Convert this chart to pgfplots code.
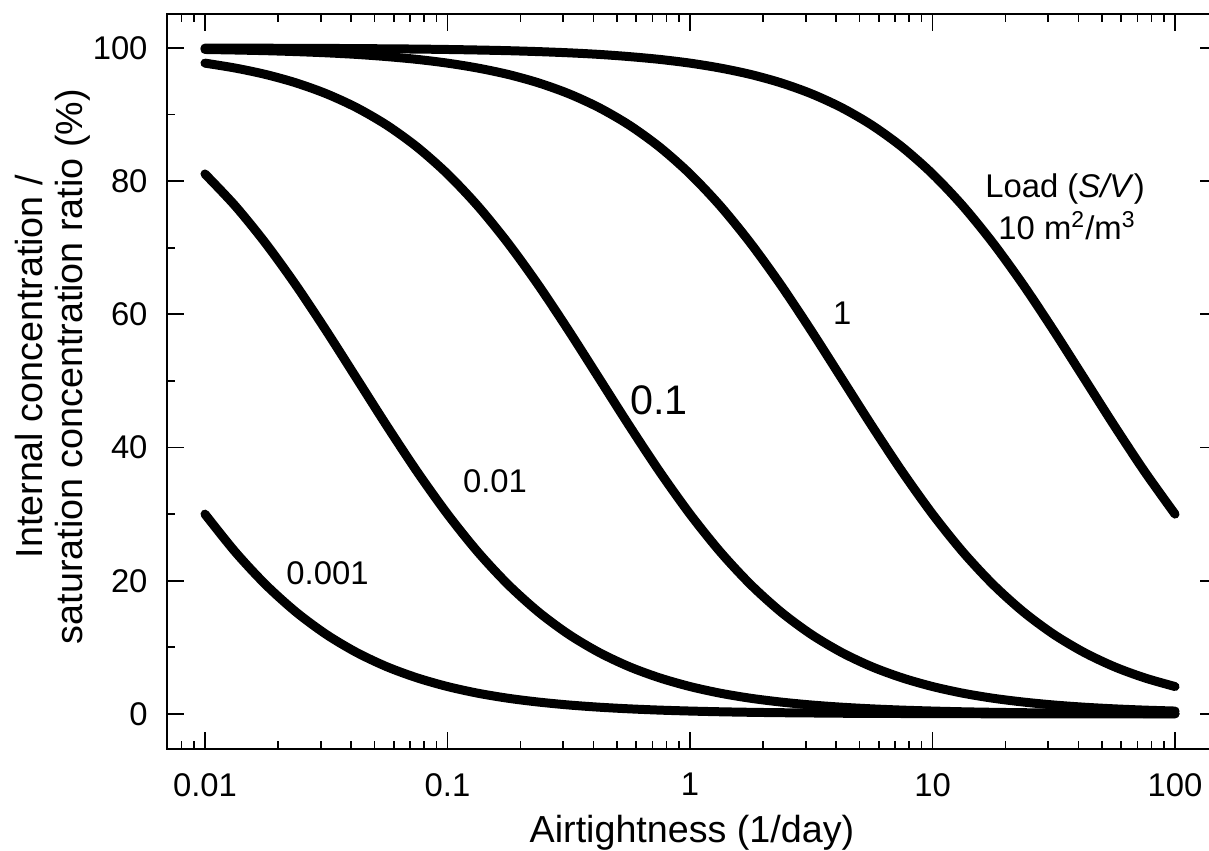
\documentclass[border=0pt]{standalone}
\usepackage{pgfplots}
\pgfplotsset{compat=1.18}
\usepackage{pgfplotstable}
\usetikzlibrary{calc}
\usepackage{fontspec}
\setmainfont{Liberation Sans}

% ratio (%) vs airtightness for five loads S/V
\pgfplotstableread{
x         L0001  L001   L01    L1     L10
0.01      30.00  81.08  97.72  99.77  99.98
0.013335  24.32  76.27  96.98  99.69  99.97
0.017783  19.42  70.67  96.02  99.59  99.96
0.023714  15.31  64.38  94.76  99.45  99.94
0.031623  11.94  57.54  93.13  99.27  99.93
0.042170   9.23  50.40  91.04  99.03  99.90
0.056234   7.08  43.25  88.40  98.70  99.87
0.074989   5.41  36.37  85.11  98.28  99.83
0.1        4.11  30.00  81.08  97.72  99.77
0.13335    3.11  24.32  76.27  96.98  99.69
0.17783    2.35  19.42  70.67  96.02  99.59
0.23714    1.78  15.31  64.38  94.76  99.45
0.31623    1.34  11.94  57.54  93.13  99.27
0.42170    1.01   9.23  50.40  91.04  99.03
0.56234    0.76   7.08  43.25  88.40  98.70
0.74989    0.57   5.41  36.37  85.11  98.28
1          0.43   4.11  30.00  81.08  97.72
1.3335     0.32   3.11  24.32  76.27  96.98
1.7783     0.24   2.35  19.42  70.67  96.02
2.3714     0.18   1.78  15.31  64.38  94.76
3.1623     0.14   1.34  11.94  57.54  93.13
4.2170     0.10   1.01   9.23  50.40  91.04
5.6234     0.08   0.76   7.08  43.25  88.40
7.4989     0.06   0.57   5.41  36.37  85.11
10         0.04   0.43   4.11  30.00  81.08
13.335     0.03   0.32   3.11  24.32  76.27
17.783     0.02   0.24   2.35  19.42  70.67
23.714     0.02   0.18   1.78  15.31  64.38
31.623     0.01   0.14   1.34  11.94  57.54
42.170     0.01   0.10   1.01   9.23  50.40
56.234     0.01   0.08   0.76   7.08  43.25
74.989     0.01   0.06   0.57   5.41  36.37
100        0.00   0.04   0.43   4.11  30.00
}\datatab

\pgfplotsset{curve/.style={black, line width=3.7pt, line cap=round, smooth, no marks}}

\begin{document}
\begin{tikzpicture}
\begin{axis}[
  scale only axis,
  width=432.1pt, height=302.4pt,
  xmode=log,
  xmin=0.00697, xmax=149,
  ymin=-5.25, ymax=105.1,
  xtick={0.01,0.1,1,10,100},
  xticklabels={0.01,0.1,1,10,100},
  minor xtick={0.008,0.009,0.02,0.03,0.04,0.05,0.06,0.07,0.08,0.09,
               0.2,0.3,0.4,0.5,0.6,0.7,0.8,0.9,2,3,4,5,6,7,8,9,
               20,30,40,50,60,70,80,90},
  ytick={0,20,40,60,80,100},
  minor ytick={10,30,50,70,90},
  tick align=inside,
  major tick length=7pt,
  minor tick length=3.4pt,
  every tick/.style={black, line width=0.7pt},
  axis line style={line width=0.8pt},
  /pgf/number format/assume math mode=true,
  tick label style={font=\fontsize{13.5}{15}\selectfont, inner sep=0pt},
  xticklabel style={yshift=-9.9pt},
  yticklabel style={xshift=-7.8pt},
  xlabel={Airtightness (1/day)},
  ylabel={Internal concentration /\\saturation concentration ratio (\%)},
  label style={font=\fontsize{15.5}{16.5}\selectfont, inner sep=0pt},
  xlabel style={at={(axis description cs:0.5,-0.128)}, anchor=base},
  ylabel style={at={(axis description cs:-0.1447,0.52)}, anchor=north, align=center},
]
\addplot[curve] table[x=x, y=L0001] {\datatab};
\addplot[curve] table[x=x, y=L001] {\datatab};
\addplot[curve] table[x=x, y=L01] {\datatab};
\addplot[curve] table[x=x, y=L1] {\datatab};
\addplot[curve] table[x=x, y=L10] {\datatab};

\node[font=\fontsize{13.5}{15}\selectfont, anchor=base] at (axis cs:35.2,77.6) {Load (\textit{S/V})};
\node[font=\fontsize{13.5}{15}\selectfont, anchor=base] at (axis cs:35.9,71.2) {10 m\textsuperscript{2}/m\textsuperscript{3}};
\node[font=\fontsize{13.5}{15}\selectfont, anchor=base] at (axis cs:4.24,58.4) {1};
\node[font=\fontsize{17}{19}\selectfont, anchor=base] at (axis cs:0.745,44.9) {0.1};
\node[font=\fontsize{13.5}{15}\selectfont, anchor=base] at (axis cs:0.157,33.3) {0.01};
\node[font=\fontsize{13.5}{15}\selectfont, anchor=base] at (axis cs:0.032,19.4) {0.001};
\end{axis}
\pgfresetboundingbox
\useasboundingbox ($(current axis.south west)+(-68.7pt,-42pt)$) rectangle ($(current axis.north east)+(-3.3pt,5.76pt)$);
\end{tikzpicture}
\end{document}
